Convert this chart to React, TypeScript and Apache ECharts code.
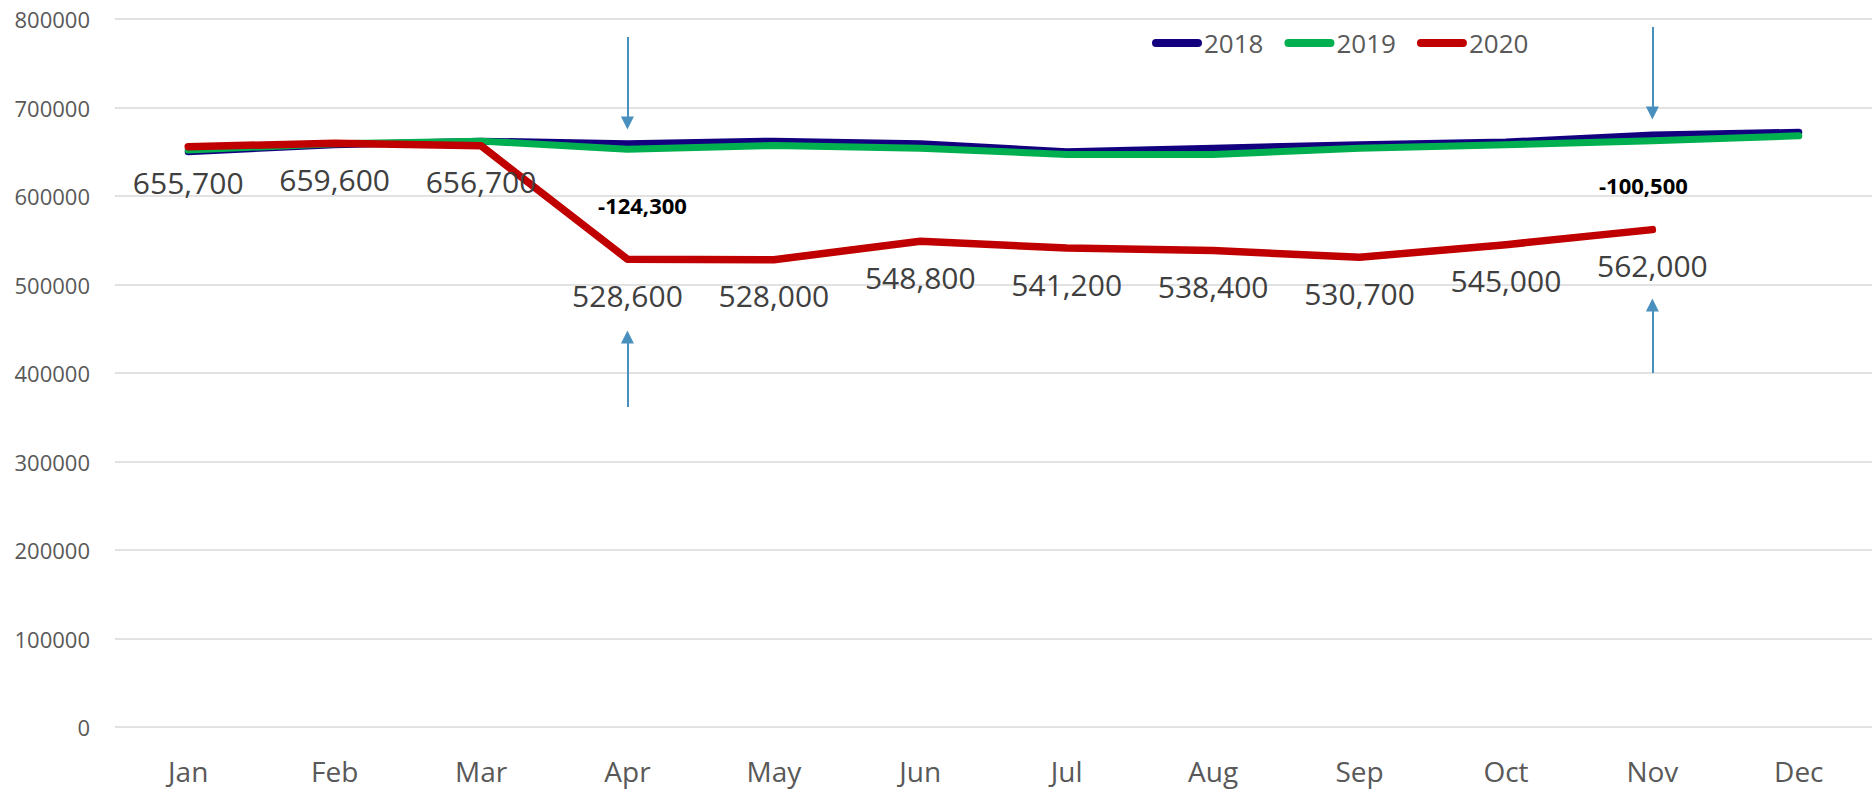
import React, { useEffect, useRef } from "react";
import * as echarts from "echarts";

const months = ["Jan", "Feb", "Mar", "Apr", "May", "Jun", "Jul", "Aug", "Sep", "Oct", "Nov", "Dec"];
const values2018 = [650000, 658000, 662000, 659000, 662000, 659000, 650000, 654000, 658000, 661000, 669000, 672000];
const values2019 = [652000, 659000, 662000, 652900, 657000, 654000, 647000, 647000, 654000, 658000, 662500, 668000];
const values2020 = [655700, 659600, 656700, 528600, 528000, 548800, 541200, 538400, 530700, 545000, 562000, null];
const yTicks = { min: 0, max: 800000, interval: 100000 };

// annotation positions (in data space: category index, value)
const noteMonths = ["Apr", "Nov"];
const noteIndex = [3, 10];
const noteY = [589800, 612400];
const noteOffsetX = [15, -9];
const arrowX = [2.99, 9.94];
const arrowDownTop = [779700, 791000];
const arrowDownTip = [682500, 693800];
const arrowUpBottom = [361600, 400000];
const arrowUpTip = [440700, 476800];

const FONT = "'Open Sans', 'Noto Sans', sans-serif";

export default function App() {
  const ref = useRef<HTMLDivElement>(null);
  useEffect(() => {
    if (!ref.current) return;
    const chart = echarts.init(ref.current, null, { renderer: "svg" });
    const fmt = (v: number) => v.toLocaleString("en-US");
    const arrowLines: any[] = [];
    arrowX.forEach((x, i) => {
      arrowLines.push([{ coord: [x, arrowDownTop[i]] }, { coord: [x, arrowDownTip[i]] }]);
      arrowLines.push([{ coord: [x, arrowUpBottom[i]] }, { coord: [x, arrowUpTip[i]] }]);
    });
    const notes = noteMonths.map((m, i) => ({
      name: fmt((values2020[noteIndex[i]] as number) - values2019[noteIndex[i]]),
      coord: [m, noteY[i]],
      label: { offset: [noteOffsetX[i], 0] },
    }));
    const lineSeries = (name: string, data: any[], color: string, width: number) => ({
      name,
      type: "line",
      data,
      symbol: "circle",
      symbolSize: 2,
      showSymbol: name === "2020",
      itemStyle: { color },
      lineStyle: { color, width, cap: "round", join: "round" },
      emphasis: { disabled: true },
      z: 2,
    });
    const s2020: any = lineSeries("2020", values2020, "#C00000", 7.5);
    s2020.label = {
      show: true,
      position: "bottom",
      distance: 20,
      fontFamily: FONT,
      fontSize: 30,
      color: "#404040",
      formatter: (p: any) => fmt(p.value),
    };
    s2020.markLine = {
      silent: true,
      symbol: ["none", "triangle"],
      symbolSize: [13, 13],
      lineStyle: { color: "#4A90BE", width: 2, type: "solid" },
      label: { show: false },
      data: arrowLines,
    };
    s2020.markPoint = {
      silent: true,
      symbol: "circle",
      symbolSize: 0,
      label: {
        show: true,
        position: "inside",
        fontFamily: FONT,
        fontSize: 22,
        fontWeight: "bold",
        color: "#000000",
        formatter: (p: any) => p.name,
      },
      data: notes,
    };
    chart.setOption({
      animation: false,
      backgroundColor: "#ffffff",
      grid: { left: 115, right: 3, top: 19, bottom: 65, containLabel: false },
      legend: {
        data: ["2018", "2019", "2020"],
        left: 1147,
        top: 25,
        itemWidth: 50,
        itemHeight: 8,
        itemGap: 21,
        icon: "path://M4,0 H46 A4,4 0 0 1 46,8 H4 A4,4 0 0 1 4,0 Z",
        textStyle: { fontFamily: FONT, fontSize: 26, color: "#595959", padding: [0, 0, 0, -3] },
      },
      xAxis: {
        type: "category",
        data: months,
        boundaryGap: true,
        axisLine: { show: false },
        axisTick: { show: false },
        axisLabel: { fontFamily: FONT, fontSize: 28, color: "#595959", margin: 30 },
      },
      yAxis: {
        type: "value",
        min: yTicks.min,
        max: yTicks.max,
        interval: yTicks.interval,
        axisLine: { show: false },
        axisTick: { show: false },
        splitLine: { lineStyle: { color: "#D9D9D9", width: 1.5 } },
        axisLabel: {
          fontFamily: FONT,
          fontSize: 22,
          color: "#595959",
          margin: 25,
          formatter: (v: number) => String(v),
        },
      },
      series: [
        lineSeries("2018", values2018, "#13007F", 7),
        lineSeries("2019", values2019, "#00B050", 7),
        s2020,
      ],
    });
    return () => chart.dispose();
  }, []);
  return (
    <div
      ref={ref}
      style={{ position: "fixed", left: 0, top: 0, width: 1875, height: 792, background: "#fff" }}
    />
  );
}
